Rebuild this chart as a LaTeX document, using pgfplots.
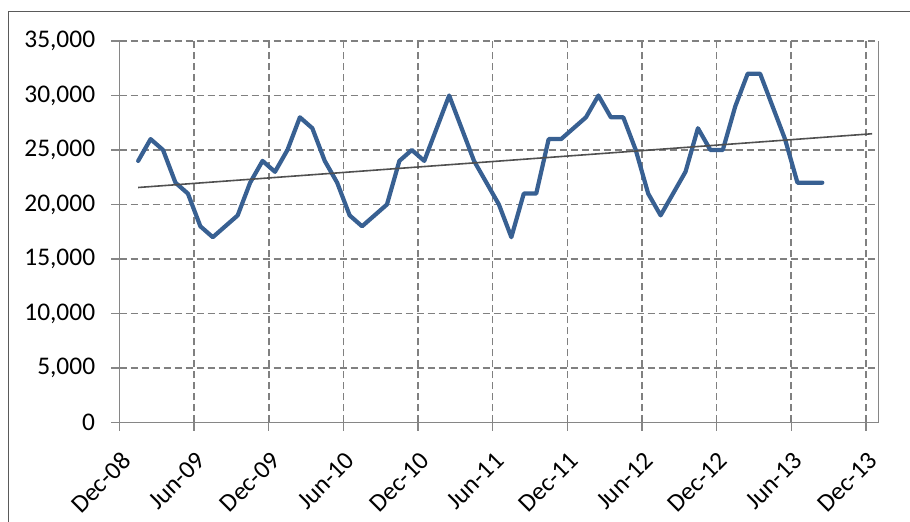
\documentclass[border=0pt]{standalone}
\usepackage{fontspec}
\setmainfont{Carlito}
\usepackage{pgfplots}
\pgfplotsset{compat=1.18}
\definecolor{series}{RGB}{56,96,146}
\definecolor{gridc}{RGB}{128,128,128}
\definecolor{axisc}{RGB}{134,134,134}
\definecolor{trendc}{RGB}{80,80,80}
\definecolor{framec}{RGB}{90,90,90}
\begin{document}
\begin{tikzpicture}
\useasboundingbox (0,0) rectangle (455bp,261bp);
\draw[color=framec, line width=0.6bp] (4.15bp,0) -- (4.15bp,255.15bp) -- (455bp,255.15bp);
\begin{axis}[
  at={(59.75bp,49.75bp)}, anchor=south west,
  scale only axis, width=379.4bp, height=190.75bp,
  xmin=0, xmax=61, ymin=0, ymax=35000,
  xtick={0,6,12,18,24,30,36,42,48,54,60},
  xticklabels={Dec-08,Jun-09,Dec-09,Jun-10,Dec-10,Jun-11,Dec-11,Jun-12,Dec-12,Jun-13,Dec-13},
  ytick={0,5000,10000,15000,20000,25000,30000,35000},
  scaled y ticks=false,
  /pgf/number format/.cd, 1000 sep={,}, assume math mode=true,
  /pgfplots/.cd,
  axis x line*=bottom, axis y line*=left,
  axis line style={axisc, line width=0.75bp, -},
  tick align=outside, major tick length=4bp,
  tick style={axisc, line width=0.7bp},
  grid=major,
  major grid style={gridc, line width=0.75bp, dash pattern=on 3.5bp off 2bp},
  tick label style={font=\fontsize{12.7bp}{15bp}\selectfont, text=black},
  xticklabel style={xshift=3.5bp, yshift=-13bp, rotate=45, anchor=east, inner sep=0bp},
  yticklabel style={inner sep=2bp, xshift=-6bp},
  clip=false,
]
\draw[axisc, line width=0.75bp] (rel axis cs:1,0) -- (rel axis cs:1,1);
\addplot[series, line width=2.1bp, line join=round, line cap=round] coordinates {
(1.5,24000) (2.5,26000) (3.5,25000) (4.5,22000) (5.5,21000) (6.5,18000) (7.5,17000) (8.5,18000)
(9.5,19000) (10.5,22000) (11.5,24000) (12.5,23000) (13.5,25000) (14.5,28000) (15.5,27000) (16.5,24000)
(17.5,22000) (18.5,19000) (19.5,18000) (20.5,19000) (21.5,20000) (22.5,24000) (23.5,25000) (24.5,24000)
(25.5,27000) (26.5,30000) (27.5,27000) (28.5,24000) (29.5,22000) (30.5,20000) (31.5,17000) (32.5,21000)
(33.5,21000) (34.5,26000) (35.5,26000) (36.5,27000) (37.5,28000) (38.5,30000) (39.5,28000) (40.5,28000)
(41.5,25000) (42.5,21000) (43.5,19000) (44.5,21000) (45.5,23000) (46.5,27000) (47.5,25000) (48.5,25000)
(49.5,29000) (50.5,32000) (51.5,32000) (52.5,29000) (53.5,26000) (54.5,22000) (55.5,22000) (56.5,22000)
};
\addplot[trendc, line width=0.8bp] coordinates {(1.5,21560) (60.5,26490)};
\end{axis}
\end{tikzpicture}
\end{document}
